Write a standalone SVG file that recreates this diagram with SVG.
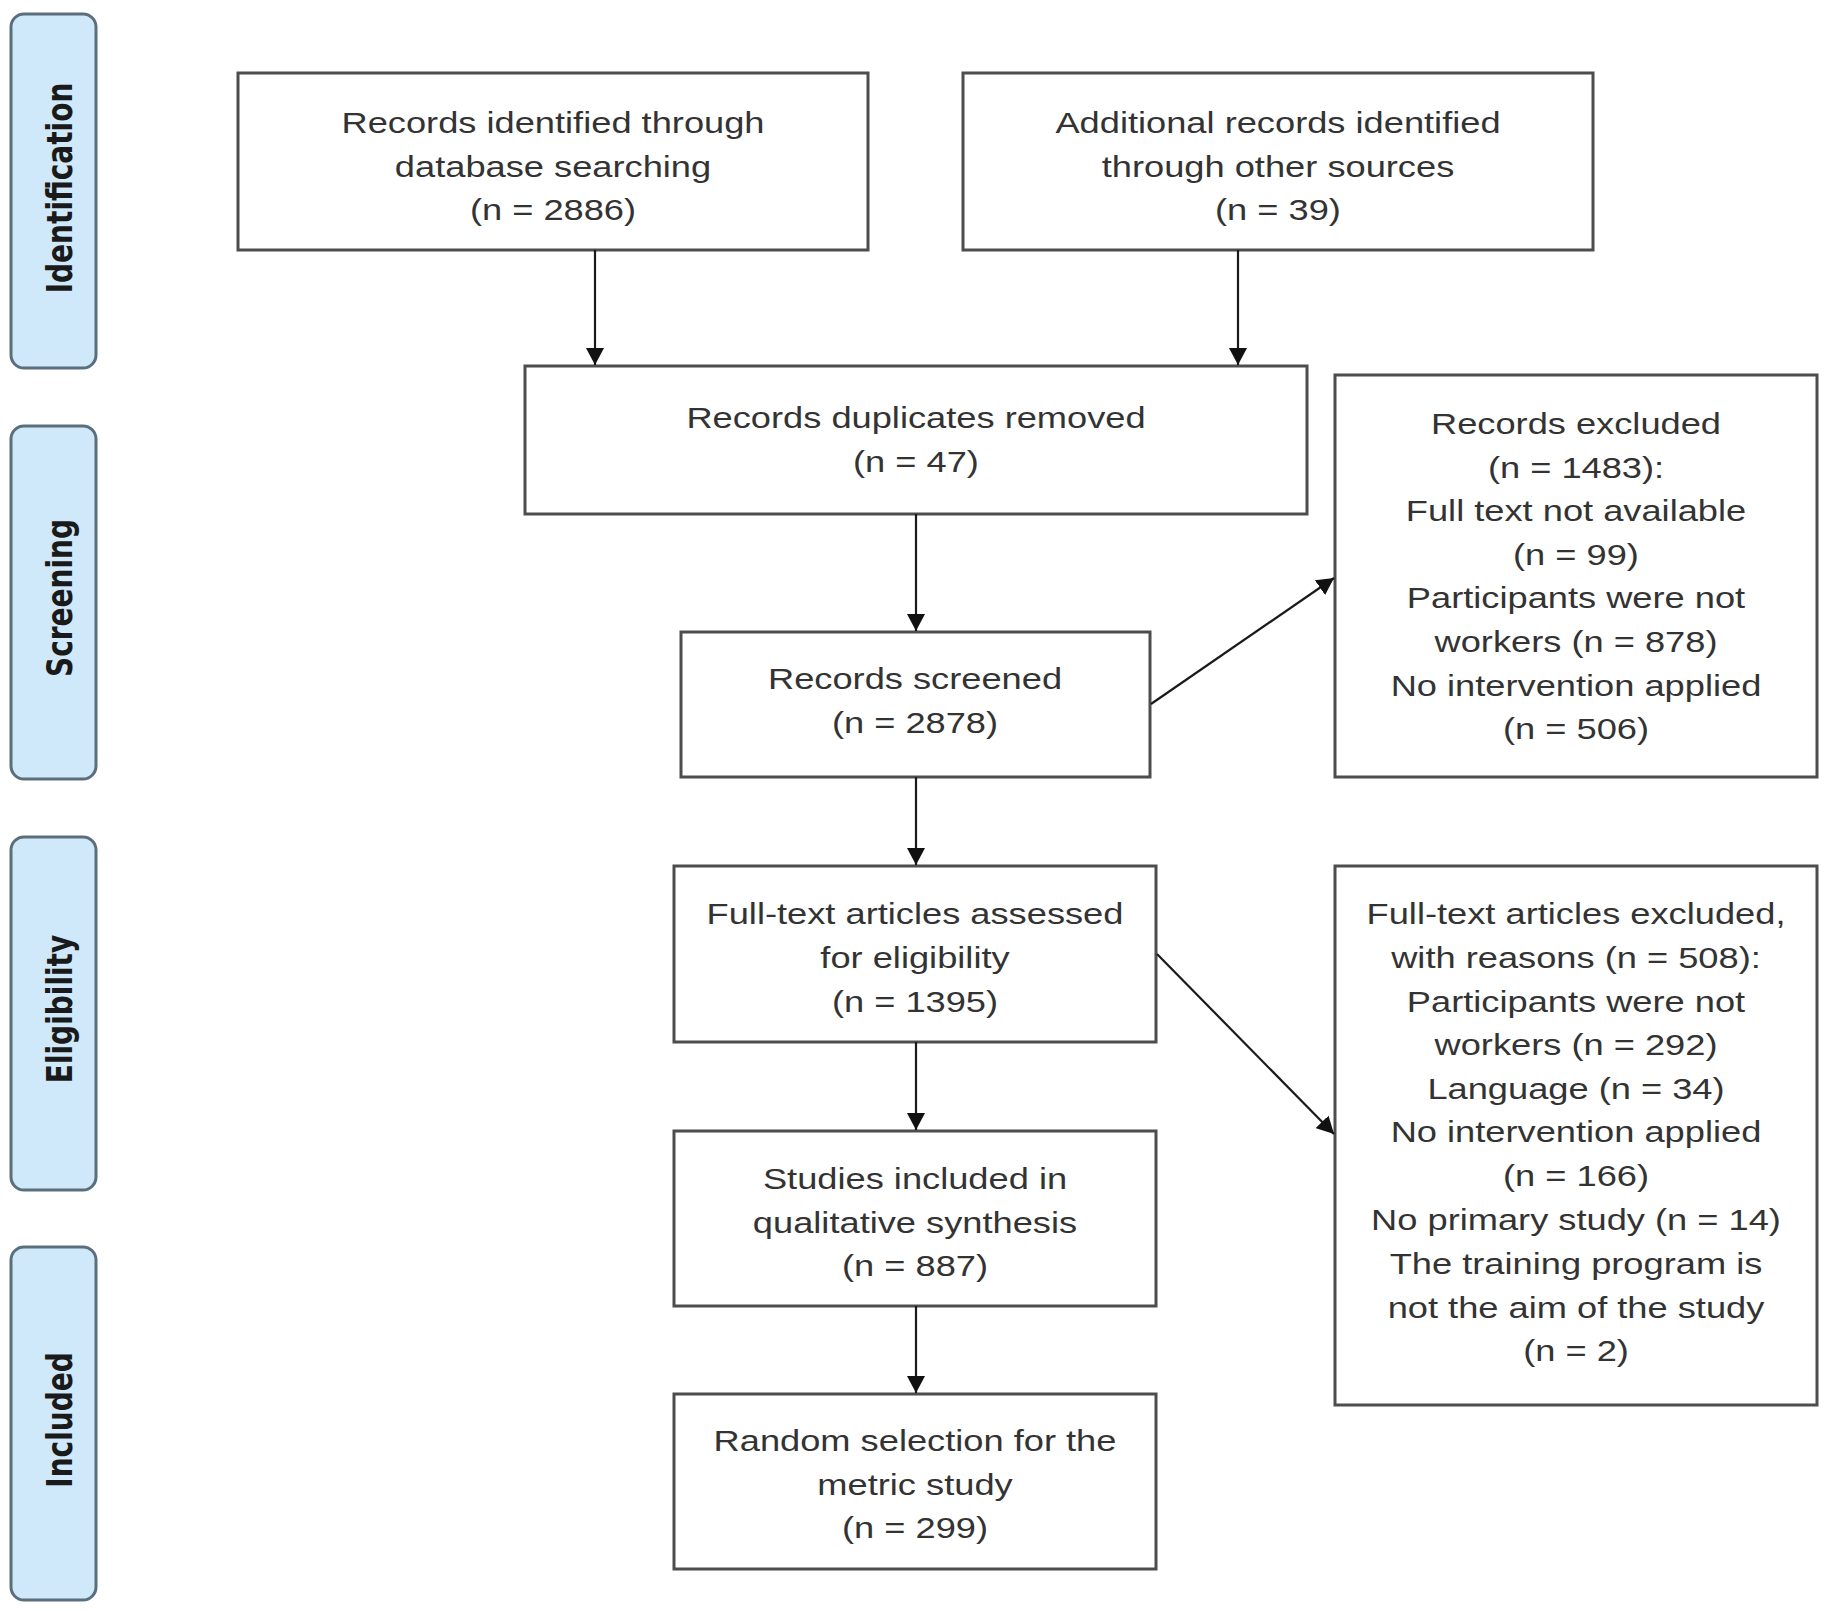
<svg xmlns="http://www.w3.org/2000/svg" width="1831" height="1611" viewBox="0 0 1831 1611">
<defs>
<style>
.phase{fill:#cfe9fb;stroke:#5b6e7c;stroke-width:3}
.plabel{font-family:"DejaVu Sans",sans-serif;font-weight:bold;font-size:28px;fill:#1a1a1a;text-anchor:middle}
.box{fill:#ffffff;stroke:#4d4d4d;stroke-width:3}
.t{font-family:"Liberation Sans",Arial,sans-serif;font-size:29px;fill:#333333;text-anchor:middle}
.conn{stroke:#1a1a1a;stroke-width:2.2;fill:none;marker-end:url(#ah)}
</style>
<marker id="ah" markerUnits="userSpaceOnUse" markerWidth="18" markerHeight="18" refX="17" refY="9" orient="auto">
<path d="M0,0 L17,9 L0,18 z" fill="#111111"/>
</marker>
</defs>
<rect width="1831" height="1611" fill="#ffffff"/>

<g id="phase-identification">
<rect class="phase" x="11" y="14" width="85" height="354" rx="13"/>
<text class="plabel" transform="translate(72,188) scale(1.25,1) rotate(-90)" x="0" y="0">Identification</text>
</g>
<g id="phase-screening">
<rect class="phase" x="11" y="426" width="85" height="353" rx="13"/>
<text class="plabel" transform="translate(72,598) scale(1.25,1) rotate(-90)" x="0" y="0">Screening</text>
</g>
<g id="phase-eligibility">
<rect class="phase" x="11" y="837" width="85" height="353" rx="13"/>
<text class="plabel" transform="translate(72,1009) scale(1.25,1) rotate(-90)" x="0" y="0">Eligibility</text>
</g>
<g id="phase-included">
<rect class="phase" x="11" y="1247" width="85" height="353" rx="13"/>
<text class="plabel" transform="translate(72,1420) scale(1.25,1) rotate(-90)" x="0" y="0">Included</text>
</g>

<g id="node-database">
<rect class="box" x="238" y="73" width="630" height="177"/>
<g transform="translate(553,0) scale(1.25,1)">
<text class="t" x="0" y="133">Records identified through</text>
<text class="t" x="0" y="177">database searching</text>
<text class="t" x="0" y="220">(n = 2886)</text>
</g>
</g>

<g id="node-other">
<rect class="box" x="963" y="73" width="630" height="177"/>
<g transform="translate(1278,0) scale(1.25,1)">
<text class="t" x="0" y="133">Additional records identified</text>
<text class="t" x="0" y="177">through other sources</text>
<text class="t" x="0" y="220">(n = 39)</text>
</g>
</g>

<g id="node-duplicates">
<rect class="box" x="525" y="366" width="782" height="148"/>
<g transform="translate(916,0) scale(1.25,1)">
<text class="t" x="0" y="428">Records duplicates removed</text>
<text class="t" x="0" y="472">(n = 47)</text>
</g>
</g>

<g id="node-screened">
<rect class="box" x="681" y="632" width="469" height="145"/>
<g transform="translate(915,0) scale(1.25,1)">
<text class="t" x="0" y="689">Records screened</text>
<text class="t" x="0" y="733">(n = 2878)</text>
</g>
</g>

<g id="node-records-excluded">
<rect class="box" x="1335" y="375" width="482" height="402"/>
<g transform="translate(1576,0) scale(1.25,1)">
<text class="t" x="0" y="434">Records excluded</text>
<text class="t" x="0" y="478">(n = 1483):</text>
<text class="t" x="0" y="521">Full text not available</text>
<text class="t" x="0" y="565">(n = 99)</text>
<text class="t" x="0" y="608">Participants were not</text>
<text class="t" x="0" y="652">workers (n = 878)</text>
<text class="t" x="0" y="696">No intervention applied</text>
<text class="t" x="0" y="739">(n = 506)</text>
</g>
</g>

<g id="node-fulltext">
<rect class="box" x="674" y="866" width="482" height="176"/>
<g transform="translate(915,0) scale(1.25,1)">
<text class="t" x="0" y="924">Full-text articles assessed</text>
<text class="t" x="0" y="968">for eligibility</text>
<text class="t" x="0" y="1012">(n = 1395)</text>
</g>
</g>

<g id="node-fulltext-excluded">
<rect class="box" x="1335" y="866" width="482" height="539"/>
<g transform="translate(1576,0) scale(1.25,1)">
<text class="t" x="0" y="924">Full-text articles excluded,</text>
<text class="t" x="0" y="968">with reasons (n = 508):</text>
<text class="t" x="0" y="1012">Participants were not</text>
<text class="t" x="0" y="1055">workers (n = 292)</text>
<text class="t" x="0" y="1099">Language (n = 34)</text>
<text class="t" x="0" y="1142">No intervention applied</text>
<text class="t" x="0" y="1186">(n = 166)</text>
<text class="t" x="0" y="1230">No primary study (n = 14)</text>
<text class="t" x="0" y="1274">The training program is</text>
<text class="t" x="0" y="1318">not the aim of the study</text>
<text class="t" x="0" y="1361">(n = 2)</text>
</g>
</g>

<g id="node-studies">
<rect class="box" x="674" y="1131" width="482" height="175"/>
<g transform="translate(915,0) scale(1.25,1)">
<text class="t" x="0" y="1189">Studies included in</text>
<text class="t" x="0" y="1233">qualitative synthesis</text>
<text class="t" x="0" y="1276">(n = 887)</text>
</g>
</g>

<g id="node-random">
<rect class="box" x="674" y="1394" width="482" height="175"/>
<g transform="translate(915,0) scale(1.25,1)">
<text class="t" x="0" y="1451">Random selection for the</text>
<text class="t" x="0" y="1495">metric study</text>
<text class="t" x="0" y="1538">(n = 299)</text>
</g>
</g>

<g id="connectors">
<line class="conn" x1="595" y1="250" x2="595" y2="365"/>
<line class="conn" x1="1238" y1="250" x2="1238" y2="365"/>
<line class="conn" x1="916" y1="514" x2="916" y2="631"/>
<line class="conn" x1="916" y1="777" x2="916" y2="865"/>
<line class="conn" x1="916" y1="1042" x2="916" y2="1130"/>
<line class="conn" x1="916" y1="1306" x2="916" y2="1393"/>
<line class="conn" x1="1151" y1="704" x2="1334" y2="578"/>
<line class="conn" x1="1157" y1="954" x2="1334" y2="1134"/>
</g>
</svg>
